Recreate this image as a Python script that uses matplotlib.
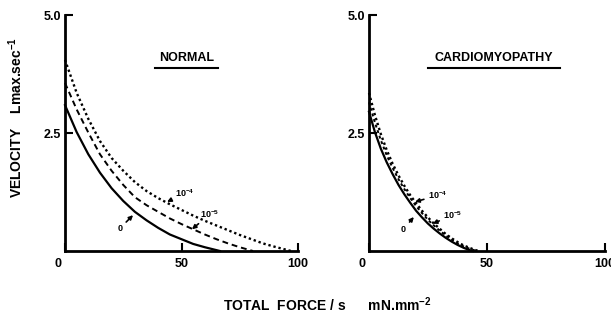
import matplotlib.pyplot as plt
from matplotlib.transforms import ScaledTranslation

plt.rcParams['font.family'] = ['Liberation Sans', 'DejaVu Sans']
plt.rcParams['font.weight'] = 'bold'
plt.rcParams['mathtext.fontset'] = 'custom'
plt.rcParams['mathtext.bf'] = 'Liberation Sans:bold'
plt.rcParams['mathtext.rm'] = 'Liberation Sans:bold'
plt.rcParams['mathtext.default'] = 'bf'

# Normal muscle: total force/s (mN.mm-2) vs velocity (Lmax.sec-1)
normal_f0 = [0, 5, 10, 15, 20, 25, 30, 35, 40, 45, 50, 55, 60, 66.5]
normal_v0 = [3.09, 2.52, 2.05, 1.66, 1.33, 1.06, 0.83, 0.65, 0.49, 0.35, 0.25, 0.15, 0.08, 0.0]

normal_f5 = [0, 5, 10, 15, 20, 25, 30, 35, 40, 45, 50, 55, 60, 65, 70, 75, 80.7]
normal_v5 = [3.56, 3.00, 2.51, 2.05, 1.70, 1.40, 1.14, 0.97, 0.83, 0.69, 0.57, 0.46, 0.35, 0.25, 0.16, 0.08, 0.0]

normal_f4 = [0, 5, 10, 15, 20, 25, 30, 35, 40, 45, 50, 55, 60, 65, 70, 75, 80, 85, 90, 97]
normal_v4 = [4.05, 3.35, 2.80, 2.33, 1.97, 1.70, 1.46, 1.27, 1.12, 0.99, 0.87, 0.75, 0.64, 0.54, 0.44, 0.34,
             0.25, 0.16, 0.09, 0.0]

# Cardiomyopathy
cardio_f = [0, 2.5, 5, 7.5, 10, 12.5, 15, 17.5, 20, 22.5, 25, 27.5, 30, 32.5, 35, 37.5, 40, 42.5, 44]
cardio_v0 = [2.95, 2.52, 2.17, 1.88, 1.63, 1.40, 1.20, 1.02, 0.85, 0.71, 0.58, 0.47, 0.37, 0.28, 0.20, 0.13,
             0.07, 0.02, 0.0]

cardio_f5 = [0, 2.5, 5, 7.5, 10, 12.5, 15, 17.5, 20, 22.5, 25, 27.5, 30, 32.5, 35, 37.5, 40, 42.5, 45, 46]
cardio_v5 = [3.15, 2.72, 2.35, 2.03, 1.76, 1.52, 1.31, 1.12, 0.95, 0.80, 0.66, 0.54, 0.43, 0.33, 0.24, 0.16,
             0.10, 0.05, 0.01, 0.0]

cardio_f4 = [0, 2.5, 5, 7.5, 10, 12.5, 15, 17.5, 20, 22.5, 25, 27.5, 30, 32.5, 35, 37.5, 40, 42.5, 45, 47]
cardio_v4 = [3.35, 2.88, 2.48, 2.14, 1.85, 1.60, 1.38, 1.18, 1.01, 0.85, 0.71, 0.58, 0.47, 0.36, 0.27, 0.19,
             0.12, 0.07, 0.02, 0.0]

# labels: (text, label x, label y, arrow tip x, arrow tip y)
normal_notes = [('10$^{-4}$', 47, 1.22, 43.8, 1.04),
                ('10$^{-5}$', 58, 0.78, 54.5, 0.46),
                ('0', 22.5, 0.48, 29.2, 0.76)]
cardio_notes = [('10$^{-4}$', 25, 1.18, 19.5, 1.04),
                ('10$^{-5}$', 31.5, 0.76, 27, 0.58),
                ('0', 13.5, 0.46, 19.0, 0.72)]

fig = plt.figure(figsize=(6.11, 3.14), dpi=100)
ax1 = fig.add_axes([65 / 611, 1 - 251 / 314, 233 / 611, 236 / 314])
ax2 = fig.add_axes([369 / 611, 1 - 251 / 314, 236 / 611, 236 / 314])


def style_axes(ax, title, title_x, line_x0, line_x1):
    ax.set_xlim(0, 100)
    ax.set_ylim(0, 5)
    for s in ['top', 'right']:
        ax.spines[s].set_visible(False)
    for s in ['left', 'bottom']:
        ax.spines[s].set_linewidth(2)
    ax.set_xticks([0, 50, 100])
    ax.set_xticklabels(['0', '50', '100'])
    ax.set_yticks([2.5, 5.0])
    ax.set_yticklabels(['2.5', '5.0'])
    ax.tick_params(direction='in', length=6, width=1.5, labelsize=9, pad=5)
    ax.tick_params(axis='y', pad=3)
    # the "0" label sits a little left of the axis in the original
    lab = ax.get_xticklabels()[0]
    lab.set_transform(lab.get_transform() + ScaledTranslation(-0.07, 0, fig.dpi_scale_trans))
    ax.text(title_x, 0.818, title, transform=ax.transAxes, ha='center', va='center',
            fontsize=9, fontweight='bold')
    ax.plot([line_x0, line_x1], [0.775, 0.775], transform=ax.transAxes, color='black', lw=1.5,
            clip_on=False)


style_axes(ax1, 'NORMAL', 0.52, 0.385, 0.655)
style_axes(ax2, 'CARDIOMYOPATHY', 0.53, 0.25, 0.81)

ax1.plot(normal_f0, normal_v0, color='black', lw=1.6, clip_on=False)
ax1.plot(normal_f5, normal_v5, color='black', lw=1.4, linestyle=(0, (3, 2)), clip_on=False)
ax1.plot(normal_f4, normal_v4, color='black', lw=1.7, linestyle=(0, (1, 1.2)), clip_on=False)

ax2.plot(cardio_f, cardio_v0, color='black', lw=1.6, clip_on=False)
ax2.plot(cardio_f5, cardio_v5, color='black', lw=1.4, linestyle=(0, (1.5, 1.5)), clip_on=False)
ax2.plot(cardio_f4, cardio_v4, color='black', lw=1.7, linestyle=(0, (1, 1.2)), clip_on=False)

for ax, notes in [(ax1, normal_notes), (ax2, cardio_notes)]:
    for txt, tx, ty, ax_, ay in notes:
        ax.annotate(txt, xy=(ax_, ay), xytext=(tx, ty), fontsize=6.5, fontweight='bold',
                    ha='left', va='center',
                    arrowprops=dict(arrowstyle='-|>', color='black', lw=1.2,
                                    mutation_scale=6, shrinkA=1, shrinkB=0))

fig.text(15.5 / 611, 1 - 118 / 314, 'VELOCITY    Lmax.sec$^{-1}$', rotation=90, ha='center', va='center',
         fontsize=10, fontweight='bold')
fig.text(223 / 611, 1 - 305 / 314, 'TOTAL  FORCE / s      mN.mm$^{-2}$', ha='left', va='center',
         fontsize=10, fontweight='bold')

fig.savefig('out.png', dpi=100)
